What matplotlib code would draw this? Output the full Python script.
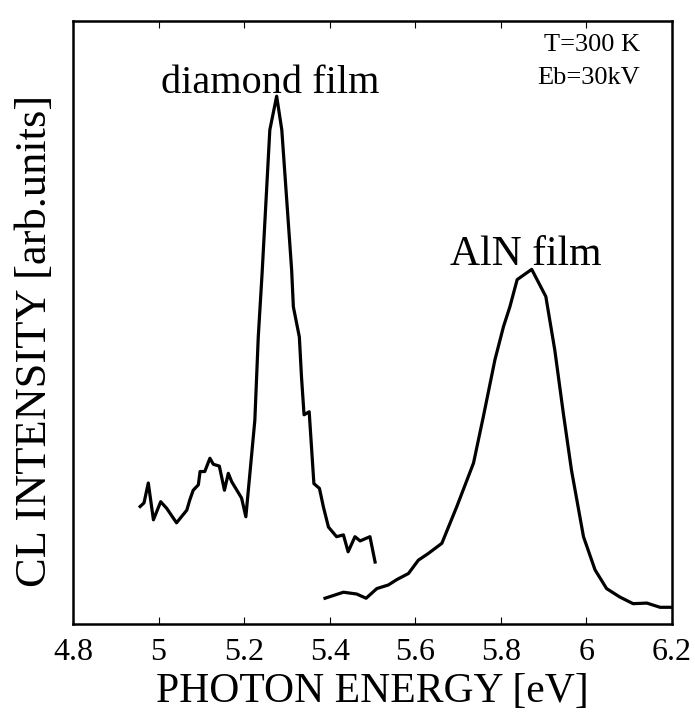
import numpy as np
import matplotlib.pyplot as plt

# diamond film CL spectrum
diamond_energy = [4.957, 4.966, 4.976, 4.988, 5.005, 5.019, 5.042, 5.066, 5.073, 5.081,
                  5.093, 5.097, 5.108, 5.120, 5.128, 5.142, 5.154, 5.163, 5.171, 5.183,
                  5.194, 5.204, 5.214, 5.225, 5.233, 5.242, 5.260, 5.276, 5.288, 5.311,
                  5.315, 5.329, 5.334, 5.340, 5.352, 5.363, 5.376, 5.385, 5.397, 5.416,
                  5.432, 5.443, 5.459, 5.471, 5.494, 5.506]
diamond_intensity = [19.5, 20.1, 23.4, 17.3, 20.3, 19.2, 16.8, 18.9, 20.6, 22.2,
                     23.1, 25.3, 25.3, 27.5, 26.5, 26.2, 22.2, 25.0, 23.6, 22.2,
                     20.9, 17.8, 25.4, 33.8, 47.6, 58.2, 81.9, 87.5, 81.9, 58.7,
                     52.6, 47.6, 41.0, 34.7, 35.2, 23.3, 22.5, 19.5, 16.1, 14.5,
                     14.8, 12.0, 14.5, 13.8, 14.5, 10.3]

# AlN film CL spectrum
aln_energy = [5.389, 5.432, 5.463, 5.485, 5.510, 5.537, 5.557, 5.584, 5.607, 5.630,
              5.662, 5.697, 5.736, 5.759, 5.786, 5.806, 5.821, 5.838, 5.872, 5.905,
              5.926, 5.946, 5.965, 5.993, 6.020, 6.047, 6.078, 6.109, 6.141, 6.172,
              6.199]
aln_intensity = [4.3, 5.3, 5.0, 4.3, 5.9, 6.5, 7.4, 8.4, 10.6, 11.7,
                 13.4, 19.5, 26.7, 34.4, 43.8, 49.3, 52.6, 57.1, 58.8, 54.3,
                 45.4, 34.9, 25.5, 14.5, 9.0, 5.9, 4.5, 3.4, 3.5, 2.8,
                 2.8]

xticks = [4.8, 5, 5.2, 5.4, 5.6, 5.8, 6, 6.2]
xtick_labels = ["4.8", "5", "5.2", "5.4", "5.6", "5.8", "6", "6.2"]

plt.rcParams['font.family'] = ['Liberation Serif', 'DejaVu Serif']

fig = plt.figure(figsize=(6.95, 7.15), dpi=100)
ax = fig.add_axes([0.105, 0.127, 0.862, 0.844])

ax.plot(diamond_energy, diamond_intensity, color='black', lw=2.3)
ax.plot(aln_energy, aln_intensity, color='black', lw=2.3)

ax.set_xlim(4.8, 6.2)
ax.set_ylim(0, 100)
ax.set_xticks(xticks)
ax.set_xticklabels(xtick_labels, fontsize=23)
ax.set_yticks([])
ax.tick_params(axis='x', direction='in', length=5, width=0.8, top=True, pad=10)
for s in ax.spines.values():
    s.set_linewidth(1.8)

ax.set_xlabel("PHOTON ENERGY [eV]", fontsize=30, labelpad=4)
ax.set_ylabel("CL INTENSITY [arb.units]", fontsize=32)
ax.yaxis.set_label_coords(-0.03, 0.47)

ax.text(5.26, 86.5, "diamond film", fontsize=29, ha='center', va='bottom')
ax.text(5.859, 59.5, "AlN film", fontsize=30, ha='center', va='baseline')
ax.text(6.125, 96, "T=300 K", fontsize=19, ha='right', va='center')
ax.text(6.125, 90.5, "Eb=30kV", fontsize=19, ha='right', va='center')

fig.savefig("out.png", dpi=100)
